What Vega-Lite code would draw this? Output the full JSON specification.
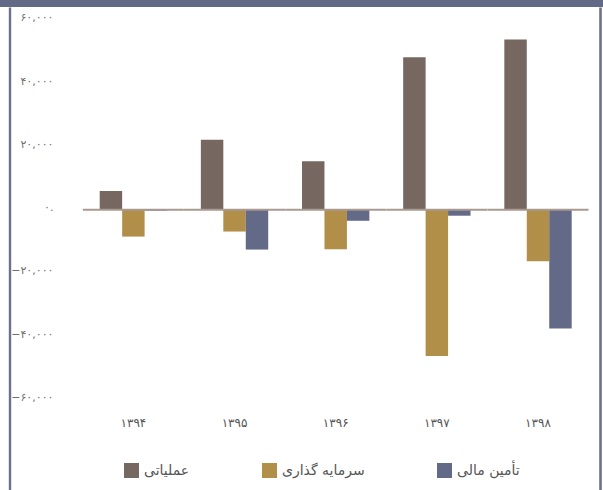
{
  "$schema": "https://vega.github.io/schema/vega-lite/v6.json",
  "width": 603,
  "height": 483,
  "autosize": {"type": "none"},
  "padding": {"left": 0, "top": 7, "right": 0, "bottom": 0},
  "background": "#636a87",
  "config": {
    "view": {"fill": "white", "stroke": null},
    "font": "DejaVu Sans"
  },
  "data": {
    "values": [
      {"year": "۱۳۹۴", "type": "عملیاتی", "value": 5900},
      {"year": "۱۳۹۴", "type": "سرمایه گذاری", "value": -8500},
      {"year": "۱۳۹۴", "type": "تأمین مالی", "value": -300},
      {"year": "۱۳۹۵", "type": "عملیاتی", "value": 22100},
      {"year": "۱۳۹۵", "type": "سرمایه گذاری", "value": -6900},
      {"year": "۱۳۹۵", "type": "تأمین مالی", "value": -12600},
      {"year": "۱۳۹۶", "type": "عملیاتی", "value": 15300},
      {"year": "۱۳۹۶", "type": "سرمایه گذاری", "value": -12500},
      {"year": "۱۳۹۶", "type": "تأمین مالی", "value": -3500},
      {"year": "۱۳۹۷", "type": "عملیاتی", "value": 48200},
      {"year": "۱۳۹۷", "type": "سرمایه گذاری", "value": -46200},
      {"year": "۱۳۹۷", "type": "تأمین مالی", "value": -1900},
      {"year": "۱۳۹۸", "type": "عملیاتی", "value": 53800},
      {"year": "۱۳۹۸", "type": "سرمایه گذاری", "value": -16300},
      {"year": "۱۳۹۸", "type": "تأمین مالی", "value": -37500}
    ]
  },
  "resolve": {"axis": {"y": "independent"}},
  "layer": [
    {
      "mark": {"type": "bar"},
      "encoding": {
        "x": {
          "field": "year", "type": "nominal", "sort": null,
          "scale": {"type": "band", "paddingInner": 0.334, "paddingOuter": 0.6476, "align": 0.761},
          "axis": {
            "orient": "bottom", "title": null, "domain": false, "ticks": false, "tickSize": 0,
            "labelAngle": 0, "offset": -67.3, "labelPadding": 0, "labelBaseline": "middle",
            "labelFontSize": 12, "labelColor": "#555555", "labelFont": "DejaVu Sans"
          }
        },
        "xOffset": {
          "field": "type", "type": "nominal",
          "sort": ["عملیاتی", "سرمایه گذاری", "تأمین مالی"],
          "scale": {"paddingInner": 0, "paddingOuter": 0}
        },
        "y": {
          "field": "value", "type": "quantitative",
          "scale": {"domain": [-88560, 64040], "nice": false, "zero": false},
          "axis": {
            "orient": "left", "title": null, "grid": false, "ticks": false, "tickSize": 0,
            "domain": true, "domainColor": "#6b7190", "domainWidth": 2.4, "offset": -9.5,
            "values": [-60000, -40000, -20000, 0, 20000, 40000, 60000],
            "labelExpr": "datum.value == 60000 ? '۶۰,۰۰۰' : datum.value == 40000 ? '۴۰,۰۰۰' : datum.value == 20000 ? '۲۰,۰۰۰' : datum.value == 0 ? '۰.' : datum.value == -20000 ? '−۲۰,۰۰۰' : datum.value == -40000 ? '−۴۰,۰۰۰' : '−۶۰,۰۰۰'",
            "labelPadding": -43.5, "labelAlign": "right", "labelBaseline": "middle", "labelOffset": -2,
            "labelFontSize": 11, "labelColor": "#6e6e6e"
          }
        },
        "color": {
          "field": "type", "type": "nominal",
          "scale": {
            "domain": ["عملیاتی", "سرمایه گذاری", "تأمین مالی"],
            "range": ["#776761", "#b28f48", "#636a87"]
          },
          "legend": {
            "orient": "none", "legendX": 124, "legendY": 456, "direction": "horizontal",
            "title": null, "symbolType": "square", "symbolSize": 225, "symbolStrokeWidth": 0,
            "labelFontSize": 14, "labelColor": "#555555", "labelOffset": 5, "columnPadding": 72,
            "labelFont": "DejaVu Sans"
          }
        }
      }
    },
    {
      "data": {"values": [{"year": "۱۳۹۴"}, {"year": "۱۳۹۵"}, {"year": "۱۳۹۶"}, {"year": "۱۳۹۷"}, {"year": "۱۳۹۸"}]},
      "mark": {"type": "tick", "color": "#a89a90", "thickness": 2, "size": 101, "opacity": 1},
      "encoding": {
        "x": {"field": "year", "type": "nominal", "sort": null},
        "y": {
          "datum": 0, "type": "quantitative",
          "axis": {
            "orient": "right", "title": null, "grid": false, "ticks": false, "labels": false,
            "domain": true, "domainColor": "#6b7190", "domainWidth": 2.6, "offset": -3
          }
        }
      }
    }
  ]
}
